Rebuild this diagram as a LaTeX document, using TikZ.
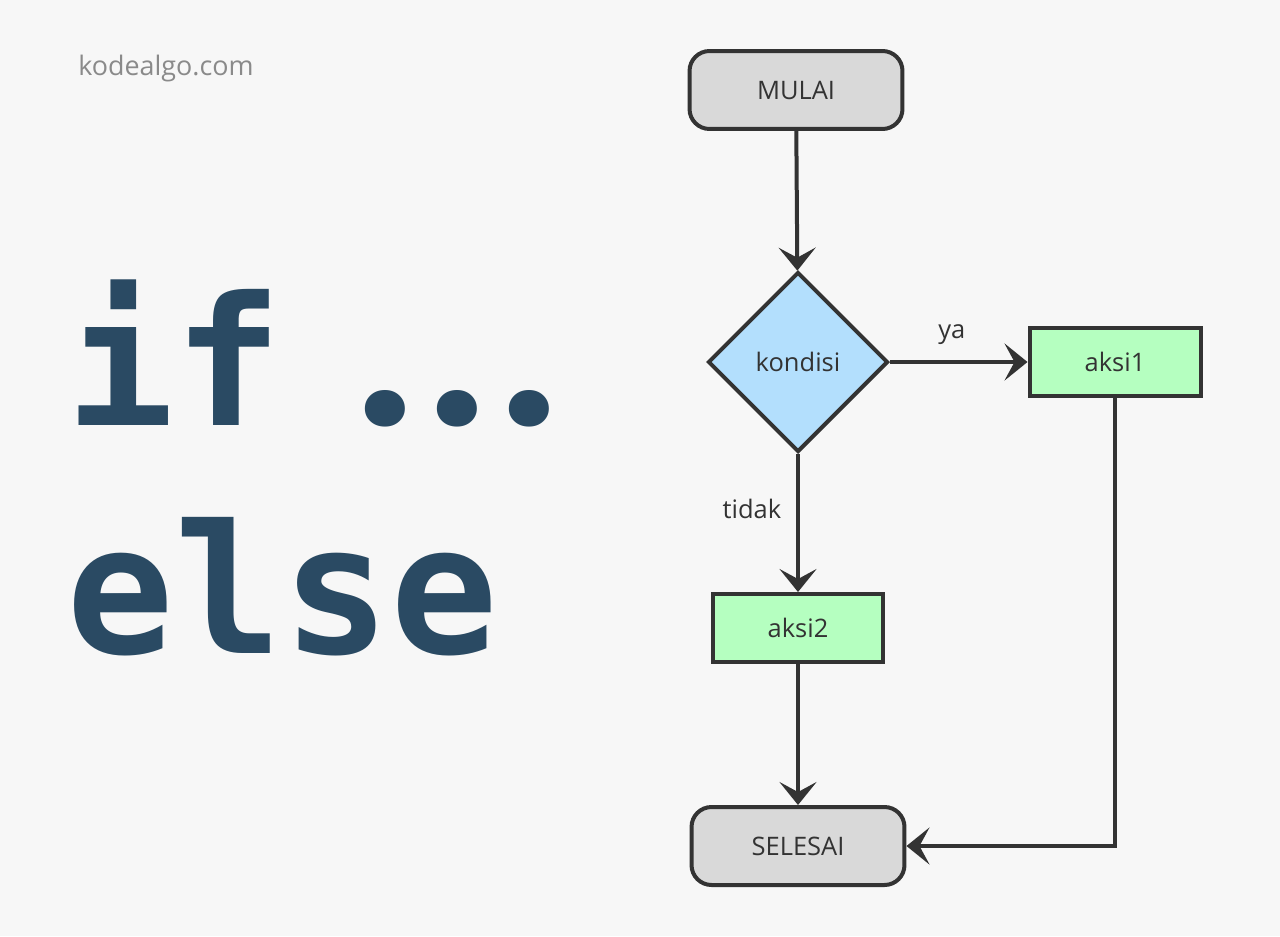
\documentclass[tikz,border=0pt]{standalone}
\usepackage{fontspec}
\setmainfont{Open Sans}
\newfontfamily\codefont{DejaVu Sans Mono}
\newfontfamily\dotfont{Poppins}
\usetikzlibrary{arrows.meta,shapes.geometric,positioning}

\definecolor{bgcol}{HTML}{F7F7F7}
\definecolor{linecol}{HTML}{333333}
\definecolor{termcol}{HTML}{D9D9D9}
\definecolor{condcol}{HTML}{B3DFFD}
\definecolor{actcol}{HTML}{B5FFC0}
\definecolor{titlecol}{HTML}{2A4A63}
\definecolor{sitecol}{HTML}{8A8A8A}

\begin{document}
\begin{tikzpicture}[
    x=0.02cm, y=-0.02cm,
    terminal/.style={draw=linecol, line width=0.08cm, fill=termcol, rounded corners=0.4cm,
        minimum width=4.26cm, minimum height=1.56cm, font=\fontsize{14.5}{16}\selectfont, text=linecol},
    cond/.style={diamond, draw=linecol, line width=0.08cm, fill=condcol, aspect=1, inner sep=0pt,
        minimum width=3.6cm, minimum height=3.6cm, font=\fontsize{14.5}{16}\selectfont, text=linecol},
    action/.style={draw=linecol, line width=0.08cm, fill=actcol,
        minimum width=3.42cm, minimum height=1.36cm, font=\fontsize{14.5}{16}\selectfont, text=linecol},
    lbl/.style={font=\fontsize{14.5}{16}\selectfont, text=linecol},
    arr/.style={line width=0.08cm, draw=linecol, -{Stealth[length=0.46cm, width=0.74cm, inset=0.2cm]}}
]
% background and margins
\fill[bgcol] (0,0) rectangle (1280,936);

% title
\node[anchor=base west, text=sitecol, font=\fontsize{15.3}{18}\selectfont, inner sep=0pt] (site) at (78,75) {kodealgo.com};
\node[anchor=base west, text=titlecol, inner sep=0pt, font=\codefont\bfseries\fontsize{102}{110}\selectfont] (kwif) at (66,425) {if{\dotfont\bfseries\fontsize{112}{120}\selectfont\hspace{1.5cm}.\kern0.34cm.\kern0.34cm.}};
\node[anchor=base west, text=titlecol, inner sep=0pt, font=\codefont\bfseries\fontsize{102}{110}\selectfont] (kwelse) at (66,653) {else};

% flowchart
\node[terminal] (mulai) at (796,90) {MULAI};
\node[cond] (kondisi) at (798,362) {kondisi};
\node[action] (aksi1) at (1115,362) {aksi1};
\node[action] (aksi2) at (798,628) {aksi2};
\node[terminal] (selesai) at (798,846) {SELESAI};

\draw[arr] (mulai) -- (kondisi);
\draw[arr] (kondisi) -- (aksi1) node[lbl, pos=0.45, above=0.2cm] {ya};
\draw[arr] (kondisi) -- (aksi2) node[lbl, pos=0.4, left=0.18cm] {tidak};
\draw[arr] (aksi2) -- (selesai);
\draw[arr] (aksi1.south) |- (selesai.east);
\end{tikzpicture}
\end{document}
